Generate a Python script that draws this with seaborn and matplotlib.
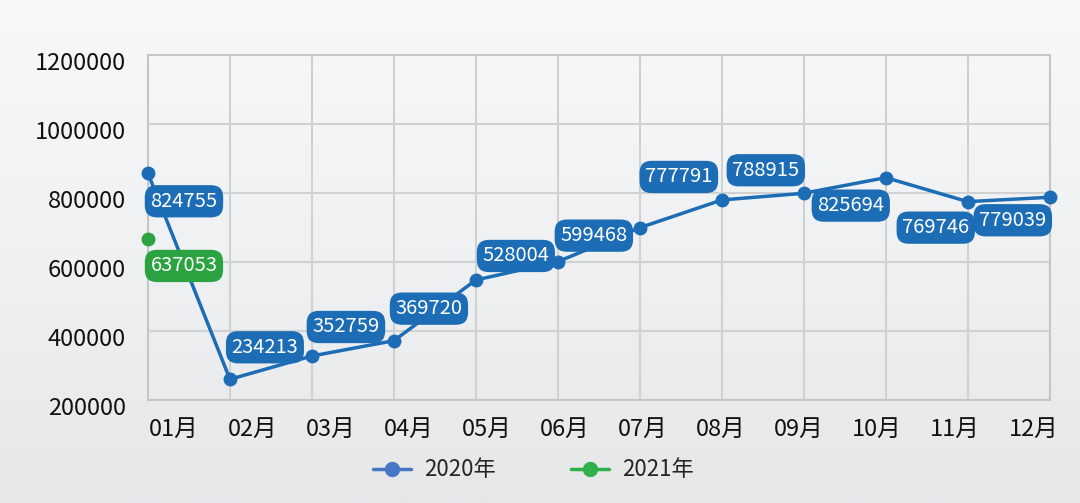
import numpy as np
import pandas as pd
import matplotlib
matplotlib.use('Agg')
import matplotlib.pyplot as plt
import matplotlib.transforms as mtransforms
from matplotlib.lines import Line2D
import seaborn as sns

# data
months = ['01月', '02月', '03月', '04月', '05月', '06月',
          '07月', '08月', '09月', '10月', '11月', '12月']
values_2020 = [857000, 260000, 327500, 371900, 547800, 600900,
               699400, 779700, 799100, 844400, 774800, 787500]
labels_2020 = ['824755', '234213', '352759', '369720', '528004', '599468',
               None, '777791', '788915', '825694', '769746', '779039']
values_2021 = [666700]
labels_2021 = ['637053']
yticks = [200000, 400000, 600000, 800000, 1000000, 1200000]
series = ['2020年', '2021年']

# label offsets in pixels (layout only)
offsets_2020 = [(36, -28), (35, 32), (34, 29), (35, 32), (40, 24), (36, 26),
                (0, 0), (-43, 23), (-38, 23), (-35, -28), (-32, -26), (-37, -23)]
offsets_2021 = [(36, -27)]

blue = '#1c6db5'
green = '#2ba340'

sns.set_theme(style='white')
plt.rcParams['font.family'] = ['Noto Sans CJK SC', 'DejaVu Sans']

df20 = pd.DataFrame({'x': np.arange(len(months)), 'y': values_2020})
df21 = pd.DataFrame({'x': np.arange(len(values_2021)), 'y': values_2021})

fig = plt.figure(figsize=(10.8, 5.03), dpi=100)

# soft gradient background
bg = fig.add_axes([0, 0, 1, 1], zorder=-10)
grad = np.linspace(0, 1, 256).reshape(-1, 1)
bg.imshow(grad, aspect='auto', cmap=matplotlib.colors.LinearSegmentedColormap.from_list(
    'bg', ['#f7f8fa', '#eff1f3', '#e5e7e9']), extent=[0, 1, 0, 1])
bg.axis('off')

ax = fig.add_axes([0.137, 0.2048, 0.835, 0.686])
ax.set_facecolor('none')

sns.lineplot(data=df20, x='x', y='y', ax=ax, color=blue, linewidth=2.5,
             marker='o', markersize=10, markeredgewidth=0,
             clip_on=False, zorder=5)
sns.lineplot(data=df21, x='x', y='y', ax=ax, color=green, linewidth=2.5,
             marker='o', markersize=10, markeredgewidth=0,
             clip_on=False, zorder=5)

box = 'round,pad=0.28,rounding_size=0.6'
for i, (v, t) in enumerate(zip(values_2020, labels_2020)):
    if t is None:
        continue
    ax.annotate(t, (i, v), xytext=offsets_2020[i], textcoords='offset pixels',
                ha='center', va='center', color='white', fontsize=14.5, zorder=6,
                bbox=dict(boxstyle=box, fc=blue, ec='none'))
for i, (v, t) in enumerate(zip(values_2021, labels_2021)):
    ax.annotate(t, (i, v), xytext=offsets_2021[i], textcoords='offset pixels',
                ha='center', va='center', color='white', fontsize=14.5, zorder=6,
                bbox=dict(boxstyle=box, fc=green, ec='none'))

ax.set_xlim(0, len(months) - 1)
ax.set_ylim(yticks[0], yticks[-1])
ax.set_yticks(yticks)
ax.set_yticklabels([str(t) for t in yticks], fontsize=17, color='#111111')
ax.set_xticks(np.linspace(0.32, 10.8, len(months)))
ax.set_xticklabels(months, fontsize=17, color='#111111')
ax.set_xticks(np.arange(len(months)), minor=True)
ax.tick_params(axis='both', which='both', length=0)
ax.tick_params(axis='y', pad=16)
ax.tick_params(axis='x', pad=13)
ax.grid(axis='x', which='minor', color='#cfd1d3', linewidth=1.5)
ax.grid(axis='y', which='major', color='#cfd1d3', linewidth=1.5)
ax.grid(axis='x', which='major', visible=False)
ax.set_axisbelow(True)
for s in ax.spines.values():
    s.set_color('#c4c6c8')
    s.set_linewidth(1.5)
ax.set_xlabel('')
ax.set_ylabel('')

# tick labels sit slightly below their grid lines
shift = mtransforms.ScaledTranslation(0, -6 / 100, fig.dpi_scale_trans)
for lab in ax.get_yticklabels():
    lab.set_transform(lab.get_transform() + shift)

handles = [Line2D([], [], color='#4677c6', linewidth=2.5, marker='o', markersize=10),
           Line2D([], [], color='#2fb04a', linewidth=2.5, marker='o', markersize=10)]
ax.legend(handles, series, loc='center', bbox_to_anchor=(0.494, 0.066),
          bbox_transform=fig.transFigure, ncol=2, frameon=False, fontsize=16,
          columnspacing=3.4, handlelength=1.7, handletextpad=0.6)

fig.savefig('out.png', dpi=100)
